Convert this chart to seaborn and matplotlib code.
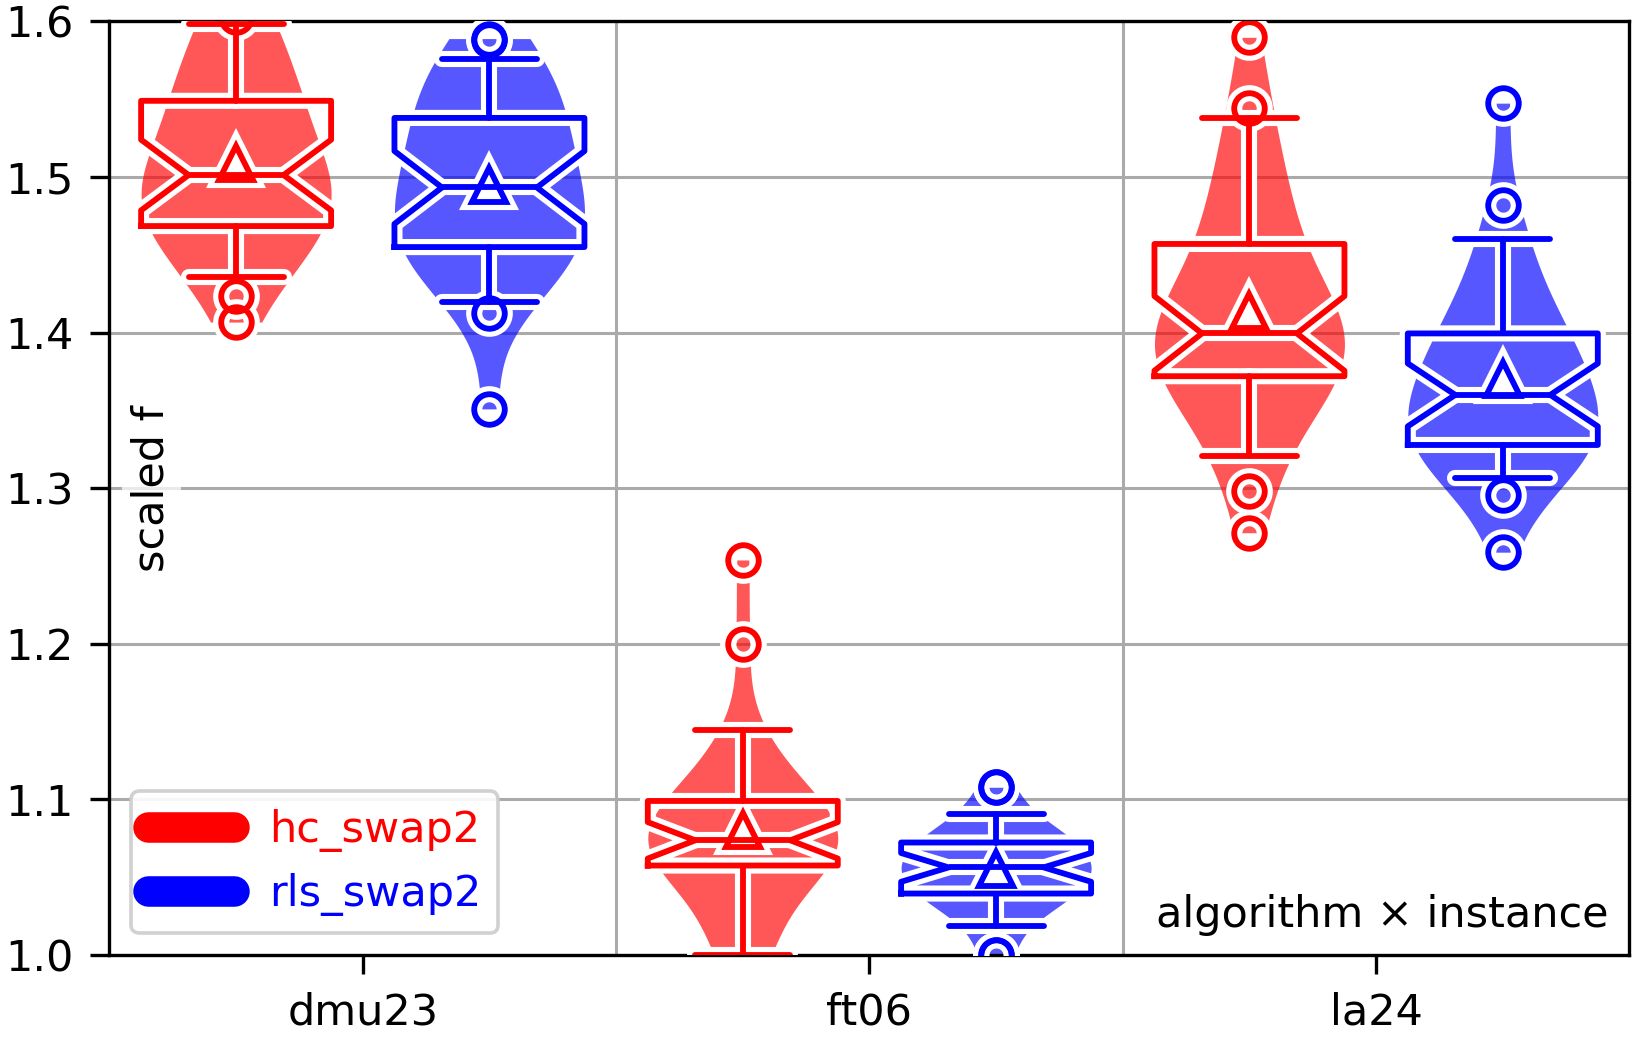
import numpy as np
import pandas as pd
import matplotlib
matplotlib.use("Agg")
import matplotlib.pyplot as plt
from matplotlib.lines import Line2D
import seaborn as sns

instances = ["dmu23", "ft06", "la24"]
algorithms = ["hc_swap2", "rls_swap2"]
colors = ["#ff0000", "#0000ff"]
y_ticks = [1.0, 1.1, 1.2, 1.3, 1.4, 1.5, 1.6]

# scaled end results of 31 runs per setup
dmu23_hc = [1.4068, 1.4235, 1.4356, 1.445, 1.452, 1.458, 1.463, 1.466, 1.471, 1.476,
            1.481, 1.486, 1.490, 1.494, 1.498, 1.5013, 1.506, 1.512, 1.518, 1.524,
            1.532, 1.540, 1.546, 1.552, 1.558, 1.565, 1.574, 1.585, 1.5984, 1.603, 1.62]
dmu23_rls = [1.351, 1.4127, 1.420, 1.432, 1.440, 1.446, 1.450, 1.453, 1.457, 1.462,
             1.467, 1.472, 1.477, 1.482, 1.488, 1.4933, 1.498, 1.503, 1.509, 1.515,
             1.522, 1.529, 1.535, 1.541, 1.547, 1.553, 1.560, 1.567, 1.5757, 1.588, 1.589]
ft06_hc = [1.0, 1.0, 1.0, 1.018, 1.030, 1.040, 1.048, 1.055, 1.060, 1.062,
           1.064, 1.066, 1.068, 1.070, 1.072, 1.0737, 1.076, 1.078, 1.081, 1.084,
           1.088, 1.093, 1.097, 1.101, 1.106, 1.112, 1.120, 1.130, 1.1446, 1.200, 1.2539]
ft06_rls = [1.0, 1.0, 1.0184, 1.024, 1.029, 1.033, 1.036, 1.038, 1.041, 1.043,
            1.045, 1.047, 1.049, 1.051, 1.054, 1.0563, 1.058, 1.060, 1.062, 1.064,
            1.066, 1.068, 1.071, 1.0736, 1.076, 1.079, 1.082, 1.086, 1.0904, 1.1078, 1.1078]
la24_hc = [1.2714, 1.2982, 1.321, 1.335, 1.347, 1.356, 1.363, 1.369, 1.375, 1.380,
           1.384, 1.388, 1.391, 1.394, 1.397, 1.3995, 1.403, 1.407, 1.412, 1.418,
           1.428, 1.440, 1.452, 1.462, 1.472, 1.483, 1.495, 1.510, 1.5382, 1.5442, 1.5898]
la24_rls = [1.2589, 1.2957, 1.3064, 1.312, 1.317, 1.321, 1.324, 1.326, 1.3296, 1.333,
            1.337, 1.341, 1.345, 1.349, 1.354, 1.3600, 1.365, 1.370, 1.375, 1.381,
            1.387, 1.392, 1.397, 1.402, 1.410, 1.420, 1.432, 1.447, 1.4605, 1.4818, 1.5475]

runs = {
    ("dmu23", "hc_swap2"): dmu23_hc,
    ("dmu23", "rls_swap2"): dmu23_rls,
    ("ft06", "hc_swap2"): ft06_hc,
    ("ft06", "rls_swap2"): ft06_rls,
    ("la24", "hc_swap2"): la24_hc,
    ("la24", "rls_swap2"): la24_rls,
}
rows = []
for (inst, algo), vals in runs.items():
    for v in vals:
        rows.append((inst, algo, v))
df = pd.DataFrame(rows, columns=["instance", "algorithm", "scaled f"])

FS = 15.5

fig = plt.figure(figsize=(8.18, 5.21), dpi=200)
ax = fig.add_axes([0.0669, 0.0835, 0.9291, 0.8959])
ax.set_axisbelow(True)

# violins underneath
sns.violinplot(data=df, x="instance", y="scaled f", hue="algorithm",
               order=instances, hue_order=algorithms, palette=colors,
               width=1.0, gap=0.25, dodge=True, cut=0, inner=None,
               density_norm="width", linewidth=0, saturation=1,
               alpha=0.66, legend=False, ax=ax)

# notched box plots on top, white halo first, then the coloured lines
box_w = 0.375
for k, algo in enumerate(algorithms):
    pos = np.arange(len(instances)) + (k - 0.5) * 0.5
    groups = [np.asarray(runs[(inst, algo)]) for inst in instances]
    for col, lw, z in [("white", 5.8, 3), (colors[k], 2.1, 4)]:
        line = dict(color=col, linewidth=lw, solid_capstyle="round")
        ax.boxplot(groups, positions=pos, widths=box_w, notch=True,
                   whis=(5, 95), showmeans=True, manage_ticks=False, zorder=z,
                   boxprops=dict(color=col, linewidth=lw),
                   whiskerprops=line, capprops=line,
                   medianprops=dict(color=col, linewidth=lw),
                   meanprops=dict(marker="^", markersize=12,
                                  markerfacecolor="white" if col == "white" else "none",
                                  markeredgecolor=col, markeredgewidth=lw),
                   flierprops=dict(marker="o", markersize=11, markerfacecolor="none",
                                   markeredgecolor=col, markeredgewidth=lw))

ax.set_xlim(-0.5, len(instances) - 0.5)
ax.set_ylim(1.0, 1.6)
ax.set_xticks(range(len(instances)))
ax.set_xticklabels(instances)
ax.set_xticks([0.5, 1.5], minor=True)
ax.set_yticks(y_ticks)
ax.set_yticklabels([f"{t:.1f}" for t in y_ticks])
ax.tick_params(which="major", length=7, width=1.2, labelsize=FS, pad=6)
ax.tick_params(which="minor", length=0)
ax.grid(which="major", axis="y", color="#aaaaaa", linewidth=1.1)
ax.grid(which="minor", axis="x", color="#aaaaaa", linewidth=1.1)
ax.grid(which="major", axis="x", visible=False)
for sp in ax.spines.values():
    sp.set_linewidth(1.2)
ax.set_xlabel("")
ax.set_ylabel("")

ax.text(0.0276, 0.5, "scaled f", transform=ax.transAxes, rotation=90,
        ha="center", va="center", fontsize=FS, zorder=6,
        bbox=dict(boxstyle="square,pad=0.2", facecolor="white", edgecolor="none", alpha=0.75))
ax.text(0.9859, 0.03, "algorithm \u00d7 instance", transform=ax.transAxes,
        ha="right", va="baseline", fontsize=FS, zorder=6,
        bbox=dict(boxstyle="square,pad=0.2", facecolor="white", edgecolor="none", alpha=0.75))

handles = [Line2D([], [], color=c, linewidth=11, solid_capstyle="round") for c in colors]
leg = ax.legend(handles, algorithms, loc="lower left", fontsize=FS,
                framealpha=0.9, edgecolor="#cccccc")
leg.get_frame().set_linewidth(1.3)
leg.set_zorder(7)
for txt, c in zip(leg.get_texts(), colors):
    txt.set_color(c)

fig.savefig("out.png", dpi=200)
